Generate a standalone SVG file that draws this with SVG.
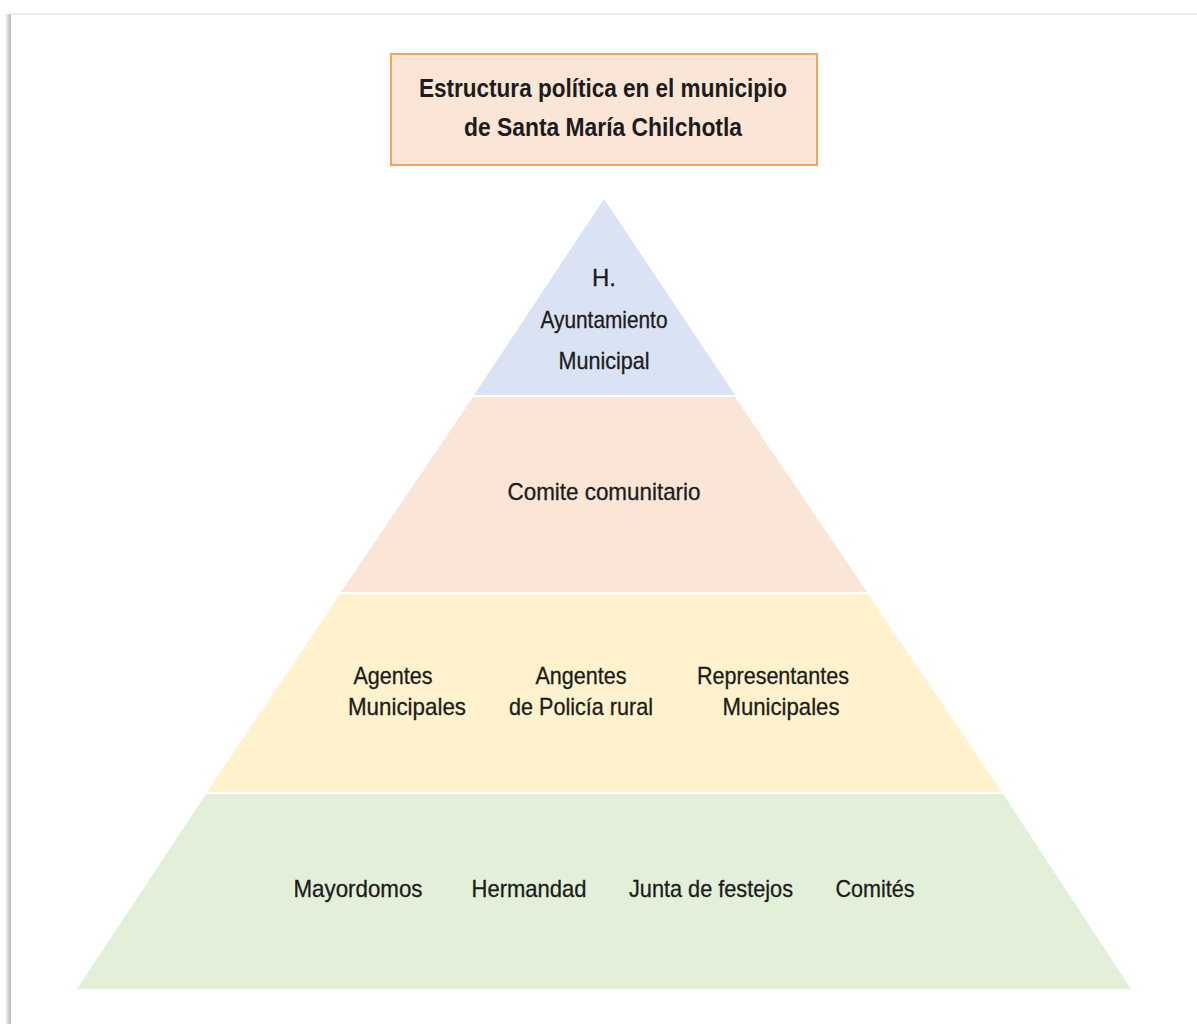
<svg xmlns="http://www.w3.org/2000/svg" width="1197" height="1024" viewBox="0 0 1197 1024">
<defs>
<linearGradient id="lshadow" x1="0" y1="0" x2="1" y2="0">
<stop offset="0" stop-color="#ffffff"/>
<stop offset="0.5" stop-color="#d6d6d6"/>
<stop offset="1" stop-color="#bdbdbd"/>
</linearGradient>
<linearGradient id="tshadow" x1="0" y1="0" x2="0" y2="1">
<stop offset="0" stop-color="#ffffff"/>
<stop offset="1" stop-color="#e2e2e2"/>
</linearGradient>
</defs>
<style>
text{font-family:"Liberation Sans","DejaVu Sans",sans-serif;fill:#1c1c1c;text-anchor:middle;}
.t{font-size:25px;font-weight:bold;}
.l{font-size:24px;stroke:#1c1c1c;stroke-width:0.3px;}
</style>
<rect width="1197" height="1024" fill="#ffffff"/>
<g id="frame">
<rect x="10" y="12" width="1187" height="3" fill="url(#tshadow)"/>
<rect x="5" y="14" width="6" height="1010" fill="url(#lshadow)"/>
</g>
<g id="title">
<rect x="391" y="54" width="426" height="111" fill="#fbe5d6" stroke="#f5a45e" stroke-width="2"/>
<text class="t" x="603" y="97" textLength="368" lengthAdjust="spacingAndGlyphs">Estructura política en el municipio</text>
<text class="t" x="603" y="136" textLength="278" lengthAdjust="spacingAndGlyphs">de Santa María Chilchotla</text>
</g>
<g id="tier1">
<polygon points="604,199 735,395 474,395" fill="#dae3f3"/>
<text class="l" x="604" y="286">H.</text>
<text class="l" x="604" y="328" textLength="127" lengthAdjust="spacingAndGlyphs">Ayuntamiento</text>
<text class="l" x="604" y="369" textLength="91" lengthAdjust="spacingAndGlyphs">Municipal</text>
</g>
<g id="tier2">
<polygon points="473,397 735,397 867,592 341,592" fill="#fbe5d6"/>
<text class="l" x="604" y="500" textLength="193" lengthAdjust="spacingAndGlyphs">Comite comunitario</text>
</g>
<g id="tier3">
<polygon points="340,594 868,594 1002,792 207,792" fill="#fff2cc"/>
<text class="l" x="393" y="684" textLength="79" lengthAdjust="spacingAndGlyphs">Agentes</text>
<text class="l" x="407" y="715" textLength="118" lengthAdjust="spacingAndGlyphs">Municipales</text>
<text class="l" x="581" y="684" textLength="91" lengthAdjust="spacingAndGlyphs">Angentes</text>
<text class="l" x="581" y="715" textLength="144" lengthAdjust="spacingAndGlyphs">de Policía rural</text>
<text class="l" x="773" y="684" textLength="152" lengthAdjust="spacingAndGlyphs">Representantes</text>
<text class="l" x="781" y="715" textLength="117" lengthAdjust="spacingAndGlyphs">Municipales</text>
</g>
<g id="tier4">
<polygon points="206,794 1003,794 1131,989 77,989" fill="#e2f0d9"/>
<text class="l" x="358" y="897" textLength="129" lengthAdjust="spacingAndGlyphs">Mayordomos</text>
<text class="l" x="529" y="897" textLength="115" lengthAdjust="spacingAndGlyphs">Hermandad</text>
<text class="l" x="711" y="897" textLength="164" lengthAdjust="spacingAndGlyphs">Junta de festejos</text>
<text class="l" x="875" y="897" textLength="79" lengthAdjust="spacingAndGlyphs">Comités</text>
</g>
<g id="connectors"></g>
</svg>
